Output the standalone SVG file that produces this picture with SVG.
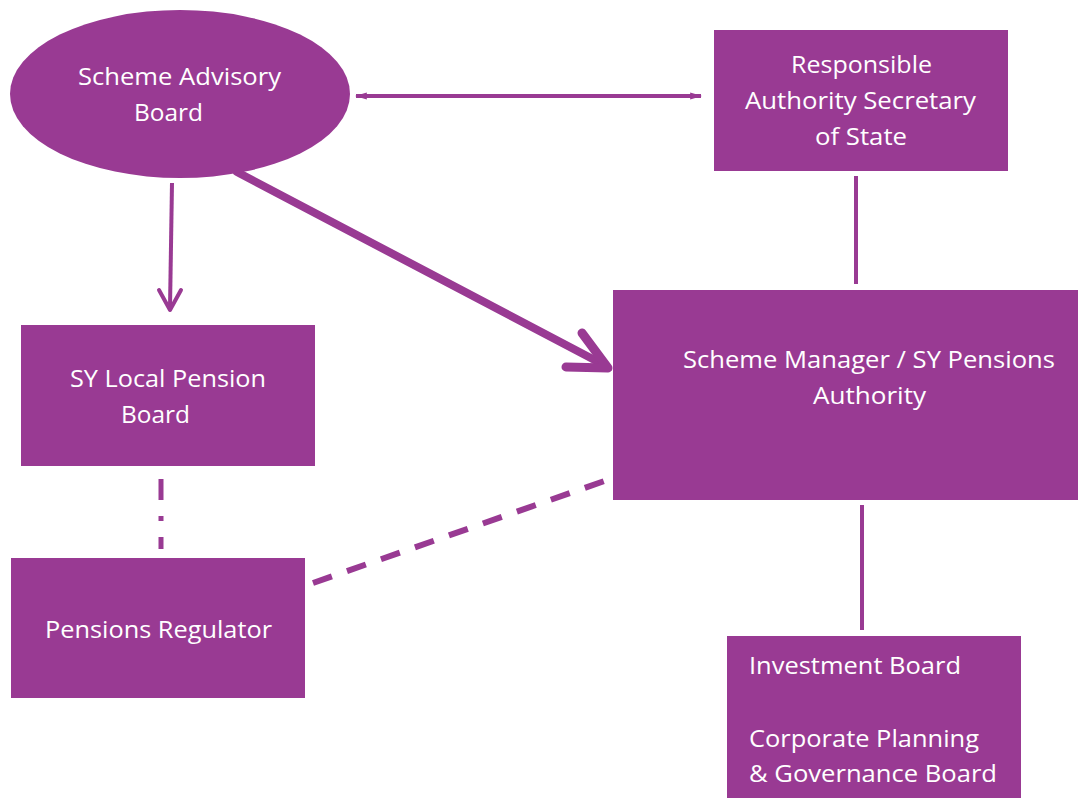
<svg xmlns="http://www.w3.org/2000/svg" width="1079" height="799" viewBox="0 0 1079 799">
  <style>
    .node { fill: #993a93; }
    .lbl { font-family: "Open Sans", "Noto Sans", sans-serif; font-size: 24px; fill: #ffffff; }
    .ln { stroke: #993a93; fill: none; }
  </style>
  <defs>
    <marker id="tip" viewBox="0 0 10 10" refX="9" refY="5" markerWidth="3" markerHeight="3" orient="auto-start-reverse" markerUnits="strokeWidth">
      <path d="M0,2 L10,5 L0,8 Z" fill="#993a93"/>
    </marker>
  </defs>

  <rect width="1079" height="799" fill="#ffffff"/>

  <g id="connectors">
    <!-- two-way link between the advisory board and the secretary of state -->
    <line class="ln" x1="356" y1="96" x2="701" y2="96" stroke-width="4" marker-start="url(#tip)" marker-end="url(#tip)"/>
    <!-- advisory board down to local pension board -->
    <line class="ln" x1="172" y1="183" x2="170" y2="308" stroke-width="4"/>
    <polyline class="ln" points="159,290 170,310 181,290" stroke-width="4" stroke-linecap="round" stroke-linejoin="round"/>
    <!-- heavy arrow into the scheme manager -->
    <line class="ln" x1="237" y1="172" x2="606" y2="366" stroke-width="8" stroke-linecap="round"/>
    <polyline class="ln" points="582,333 608,368 566,367" stroke-width="9" stroke-linecap="round" stroke-linejoin="round"/>
    <!-- solid links -->
    <line class="ln" x1="856" y1="176" x2="856" y2="284" stroke-width="4"/>
    <line class="ln" x1="862" y1="505" x2="862" y2="630" stroke-width="4"/>
    <!-- dash-dot link between local board and regulator -->
    <line class="ln" x1="161" y1="479" x2="161" y2="549" stroke-width="5" stroke-dasharray="21 16 5 16"/>
    <!-- dashed link between regulator and scheme manager -->
    <line class="ln" x1="313" y1="583" x2="613" y2="478" stroke-width="6" stroke-dasharray="20 16"/>
  </g>

  <g id="scheme-advisory-board">
    <ellipse class="node" cx="180" cy="94" rx="170" ry="84"/>
    <text class="lbl" x="78" y="85" textLength="203" lengthAdjust="spacingAndGlyphs">Scheme Advisory</text>
    <text class="lbl" x="134" y="121" textLength="69" lengthAdjust="spacingAndGlyphs">Board</text>
  </g>

  <g id="responsible-authority">
    <rect class="node" x="714" y="30" width="294" height="141"/>
    <text class="lbl" x="791" y="73" textLength="141" lengthAdjust="spacingAndGlyphs">Responsible</text>
    <text class="lbl" x="745" y="109" textLength="231" lengthAdjust="spacingAndGlyphs">Authority Secretary</text>
    <text class="lbl" x="815" y="145" textLength="92" lengthAdjust="spacingAndGlyphs">of State</text>
  </g>

  <g id="local-pension-board">
    <rect class="node" x="21" y="325" width="294" height="141"/>
    <text class="lbl" x="70" y="387" textLength="196" lengthAdjust="spacingAndGlyphs">SY Local Pension</text>
    <text class="lbl" x="121" y="423" textLength="69" lengthAdjust="spacingAndGlyphs">Board</text>
  </g>

  <g id="pensions-regulator">
    <rect class="node" x="11" y="558" width="294" height="140"/>
    <text class="lbl" x="45" y="638" textLength="227" lengthAdjust="spacingAndGlyphs">Pensions Regulator</text>
  </g>

  <g id="scheme-manager">
    <rect class="node" x="613" y="290" width="465" height="210"/>
    <text class="lbl" x="683" y="368" textLength="372" lengthAdjust="spacingAndGlyphs">Scheme Manager / SY Pensions</text>
    <text class="lbl" x="813" y="404" textLength="113" lengthAdjust="spacingAndGlyphs">Authority</text>
  </g>

  <g id="investment-board">
    <rect class="node" x="727" y="636" width="294" height="162"/>
    <text class="lbl" x="749" y="674" textLength="212" lengthAdjust="spacingAndGlyphs">Investment Board</text>
    <text class="lbl" x="749" y="747" textLength="230" lengthAdjust="spacingAndGlyphs">Corporate Planning</text>
    <text class="lbl" x="749" y="782" textLength="248" lengthAdjust="spacingAndGlyphs">&amp; Governance Board</text>
  </g>
</svg>
